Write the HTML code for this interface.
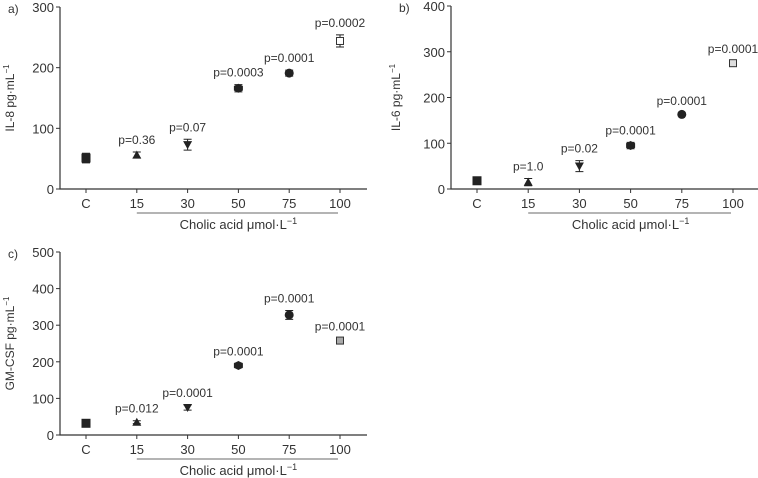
<!DOCTYPE html>
<html><head><meta charset="utf-8"><style>
body{margin:0;background:#fff;}
svg{display:block;font-family:"Liberation Sans",sans-serif;}
text{fill:#333;}
</style></head><body>
<svg id="chart" width="758" height="478" viewBox="0 0 758 478"></svg>
<script>
const categories = ["C","15","30","50","75","100"];
const il8Values = [51, 56, 73, 166, 191, 244];
const il8Errors = [8, 5, 9, 6, 5, 10];
const il8P = ["", "p=0.36", "p=0.07", "p=0.0003", "p=0.0001", "p=0.0002"];
const il8Ticks = [0, 100, 200, 300];
const il6Values = [18, 15, 50, 95, 163, 275];
const il6Errors = [3, 8, 12, 7, 3, 5];
const il6P = ["", "p=1.0", "p=0.02", "p=0.0001", "p=0.0001", "p=0.0001"];
const il6Ticks = [0, 100, 200, 300, 400];
const gmValues = [32, 35, 75, 190, 328, 258];
const gmErrors = [4, 4, 7, 6, 12, 5];
const gmP = ["", "p=0.012", "p=0.0001", "p=0.0001", "p=0.0001", "p=0.0001"];
const gmTicks = [0, 100, 200, 300, 400, 500];
const markers = ["square","triangle","invtriangle","diamond","circle","opensquare"];

const NS = "http://www.w3.org/2000/svg";
const svg = document.getElementById("chart");
function mk(tag, attrs, parent){
  const e = document.createElementNS(NS, tag);
  for (const k in attrs) e.setAttribute(k, attrs[k]);
  (parent||svg).appendChild(e);
  return e;
}
function panel(cfg){
  const g = mk("g", {});
  
  
  const ymax = cfg.ticks[cfg.ticks.length-1];
  const yS = v => cfg.y0 - (v/ymax)*(cfg.y0-cfg.yTop);
  const xS = i => cfg.xC + i*cfg.step;
  const ax = mk("path", {d:`M${cfg.ax} ${cfg.yTop}V${cfg.y0}H${cfg.xEnd}`, stroke:"#333", fill:"none", "stroke-width":1.2}, g);
  
  
  cfg.ticks.forEach(t=>{
    const y = yS(t);
    mk("line",{x1:cfg.ax-4,x2:cfg.ax,y1:y,y2:y,stroke:"#333"},g);
    const tl = mk("text",{x:cfg.ax-6,y:y+5,"text-anchor":"end","font-size":13},g);
    tl.textContent = t;
    
    
  });
  categories.forEach((c,i)=>{
    const x = xS(i);
    mk("line",{x1:x,x2:x,y1:cfg.y0,y2:cfg.y0+4,stroke:"#333"},g);
    const tl = mk("text",{x:x,y:cfg.y0+19,"text-anchor":"middle","font-size":13},g);
    tl.textContent = c;
    
    
  });
  const ul = mk("line",{x1:xS(1),x2:xS(5)-2,y1:cfg.y0+24,y2:cfg.y0+24,stroke:"#888","stroke-width":1.2},g);
  
  
  const xl = mk("text",{x:(xS(1)+xS(5))/2,y:cfg.y0+40,"text-anchor":"middle","font-size":13},g);
  xl.innerHTML = 'Cholic acid μmol·L<tspan dy="-5" font-size="9">−1</tspan>';
  
  
  const yl = mk("text",{x:0,y:0,"text-anchor":"middle","font-size":12,transform:`translate(${cfg.ylx},${(cfg.yTop+cfg.y0)/2}) rotate(-90)`},g);
  yl.innerHTML = cfg.ylabel + ' pg·mL<tspan dy="-5" font-size="8">−1</tspan>';
  
  
  const pl = mk("text",{x:cfg.ax-52,y:cfg.yTop+6,"font-size":12},g);
  pl.textContent = cfg.letter;
  
  
  cfg.values.forEach((v,i)=>{
    const x = xS(i), y = yS(v);
    const e = cfg.errors[i];
    const pt = mk("g",{},g);
    
    
    const ye1 = yS(v+e), ye2 = yS(v-e);
    mk("path",{d:`M${x} ${ye1}V${ye2}M${x-4} ${ye1}H${x+4}M${x-4} ${ye2}H${x+4}`,stroke:"#222","stroke-width":1},pt);
    const m = markers[i], s = 4.5;
    if (m==="square") mk("rect",{x:x-s,y:y-s,width:2*s,height:2*s,fill:"#222"},pt);
    else if (m==="triangle") mk("path",{d:`M${x} ${y-s}L${x+s} ${y+s*0.8}L${x-s} ${y+s*0.8}Z`,fill:"#222"},pt);
    else if (m==="invtriangle") mk("path",{d:`M${x} ${y+s}L${x+s} ${y-s*0.8}L${x-s} ${y-s*0.8}Z`,fill:"#222"},pt);
    else if (m==="diamond") mk("path",{d:`M${x} ${y-s}L${x+s} ${y-s/2}L${x+s} ${y+s/2}L${x} ${y+s}L${x-s} ${y+s/2}L${x-s} ${y-s/2}Z`,fill:"#222"},pt);
    else if (m==="circle") mk("circle",{cx:x,cy:y,r:s,fill:"#222"},pt);
    else mk("rect",{x:x-3.5,y:y-3.5,width:7,height:7,fill:cfg.openFill,stroke:"#333"},pt);
    if (cfg.p[i]) {
      const t = mk("text",{x:x,y:ye1-8,"text-anchor":"middle","font-size":12},g);
      t.textContent = cfg.p[i];
      
      
    }
  });
}
panel({name:"panel-a-il8",letter:"a)",ax:60,xEnd:367,yTop:7,y0:189,xC:86,step:50.8,ticks:il8Ticks,values:il8Values,errors:il8Errors,p:il8P,ylabel:"IL-8",ylx:14,openFill:"#fff"});
panel({name:"panel-b-il6",letter:"b)",ax:451,xEnd:758,yTop:6,y0:189,xC:477,step:51.2,ticks:il6Ticks,values:il6Values,errors:il6Errors,p:il6P,ylabel:"IL-6",ylx:400,openFill:"#ddd"});
panel({name:"panel-c-gmcsf",letter:"c)",ax:60,xEnd:367,yTop:252,y0:435,xC:86,step:50.8,ticks:gmTicks,values:gmValues,errors:gmErrors,p:gmP,ylabel:"GM-CSF",ylx:14,openFill:"#aaa"});
</script>
</body></html>
